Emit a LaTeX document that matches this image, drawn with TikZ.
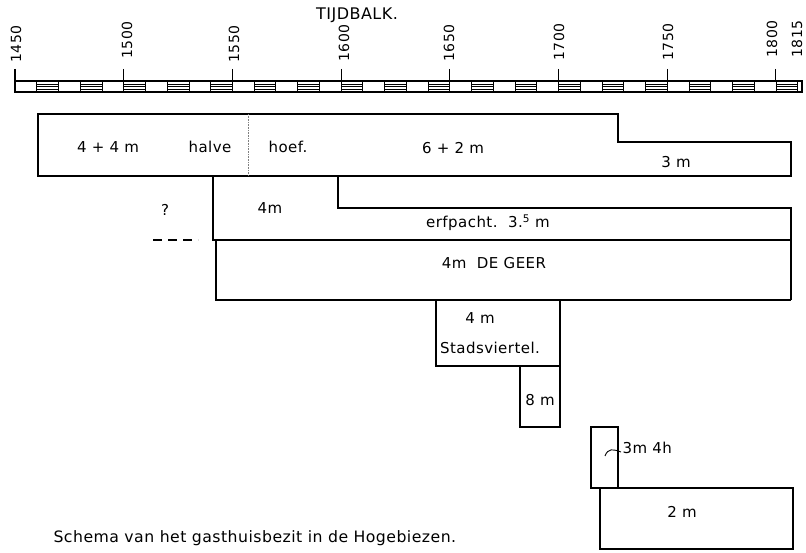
\documentclass[tikz,border=0pt]{standalone}
\usepackage{fontspec}
\setmainfont{DejaVu Sans}[LetterSpace=3]
\begin{document}
\begin{tikzpicture}[x=1pt,y=-1pt, line width=1.1pt, line join=miter,
  lbl/.style={inner sep=0pt, font=\fontsize{15}{17}\selectfont},
  yr/.style={inner sep=0pt, rotate=90, anchor=west, font=\fontsize{14}{16}\selectfont},
  hatch/.style={line width=0.6pt},
  cell/.style={line width=0.8pt}]
\useasboundingbox (0,0) rectangle (806,553);
% title
\node[lbl, font=\fontsize{16}{18}\selectfont] (title) at (357,15) {TIJDBALK.};
% time bar
\draw (15,81) rectangle (802,92);
\foreach \i in {1,...,36} \draw[cell] ({15+21.74*\i},81) -- ++(0,11);
\foreach \i in {1,3,...,35} {
  \foreach \yy in {84,86.5,89}
    \draw[hatch] ({15+21.74*\i},\yy) -- ({15+21.74*(\i+1)},\yy);
}
\foreach \yv in {1450,1500,...,1800}
  \draw ({15+2.174*(\yv-1450)},69) -- ++(0,12);
% year labels
\node[yr] (y1450) at (16,63) {1450};
\node[yr] (y1500) at (127,59) {1500};
\node[yr] (y1550) at (234,63) {1550};
\node[yr] (y1600) at (344,62) {1600};
\node[yr] (y1650) at (449,62) {1650};
\node[yr] (y1700) at (559,61) {1700};
\node[yr] (y1750) at (668,61) {1750};
\node[yr] (y1800) at (772,58) {1800};
\node[yr] (y1815) at (797,58) {1815};
% box A
\draw (38,114) -- (618,114) -- (618,142) -- (791,142) -- (791,176) -- (38,176) -- cycle;
\draw[densely dotted, line width=0.6pt, gray] (248,114) -- (248,176);
\node[lbl] (a1) at (108,147) {4 + 4 m};
\node[lbl] (a2) at (210,147) {halve};
\node[lbl] (a3) at (288,147) {hoef.};
\node[lbl] (a4) at (453,148) {6 + 2 m};
\node[lbl] (a5) at (676,162) {3 m};
% box B and erfpacht
\draw (213,176) -- (213,240) -- (791,240);
\draw (338,176) -- (338,208) -- (791,208) -- (791,300);
\node[lbl] (q) at (165,210) {?};
\draw[dash pattern=on 9pt off 6pt] (153,240) -- (198,240);
\node[lbl] (b1) at (270,208) {4m};
\node[lbl] (c1) at (488,223) {erfpacht.\ \ 3.\textsuperscript{5} m};
% DE GEER
\draw (216,240) -- (216,300) -- (791,300);
\node[lbl] (d1) at (494,263) {4m\ \ DE GEER};
% Stadsviertel
\draw (436,300) -- (436,366) -- (560,366) -- (560,300);
\node[lbl] (e1) at (480,318) {4 m};
\node[lbl] (e2) at (490,348) {Stadsviertel.};
% 8 m
\draw (520,366) -- (520,427) -- (560,427) -- (560,366);
\node[lbl] (f1) at (540,400) {8 m};
% small box
\draw (591,427) rectangle (618,488);
\draw[line width=0.9pt] (605,456) .. controls (608,448) and (613,449) .. (621,452);
\node[lbl, anchor=west] (g1) at (622,448) {3m 4h};
% 2 m
\draw (600,488) rectangle (793,549);
\node[lbl] (h1) at (682,512) {2 m};
% caption
\node[lbl, anchor=west, font=\fontsize{15.7}{18}\selectfont] (cap) at (53,538) {Schema van het gasthuisbezit in de Hogebiezen.};
\end{tikzpicture}
\end{document}
